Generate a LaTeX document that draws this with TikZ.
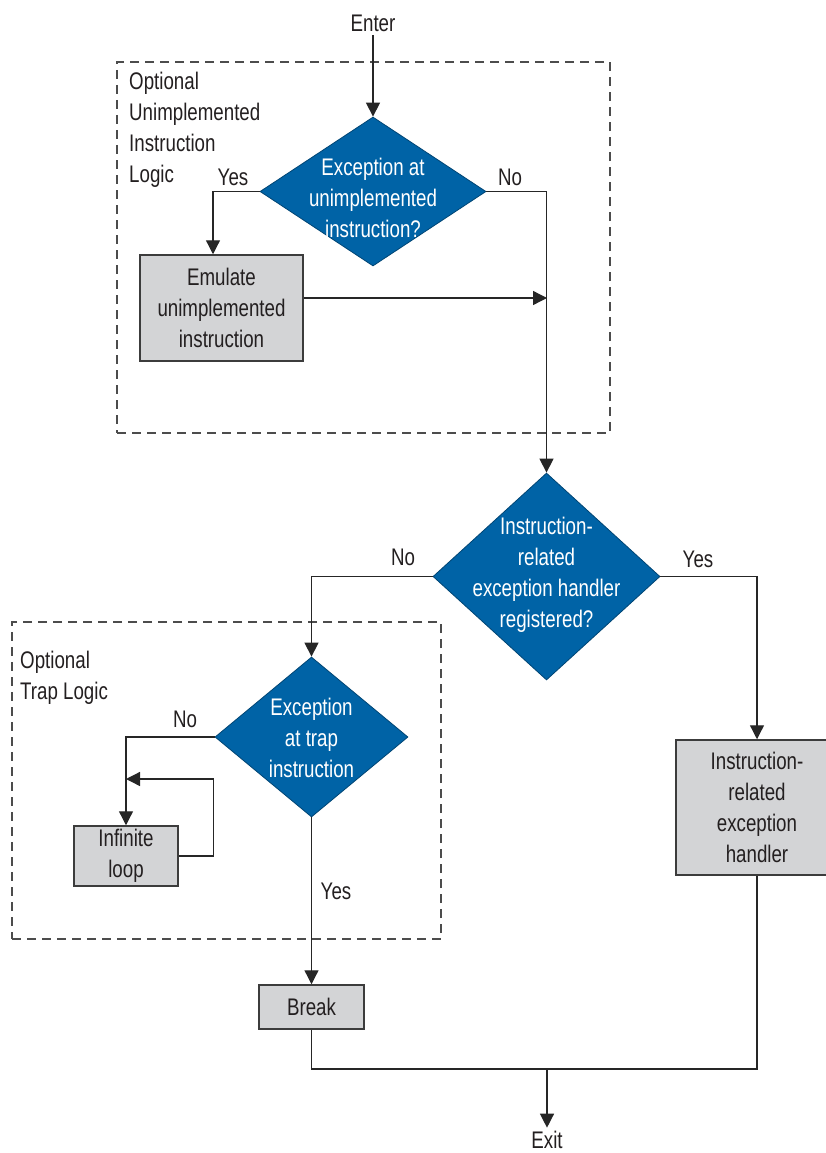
\documentclass[tikz,border=0pt]{standalone}
\usepackage{fontspec}
\setmainfont{Liberation Sans}[FakeStretch=0.78]
\usetikzlibrary{shapes.geometric,arrows.meta}
\definecolor{dblue}{HTML}{0063A6}
\definecolor{bfill}{HTML}{D3D4D6}
\definecolor{bline}{HTML}{3C3C3C}
\definecolor{txt}{HTML}{231F20}
\begin{document}
\begin{tikzpicture}[x=1pt,y=-1pt,
 every node/.style={font=\fontsize{24}{31}\selectfont, text=txt},
 dia/.style={diamond, fill=dblue, draw=dblue!70!black, line width=0.8pt, inner sep=0pt},
 dtext/.style={text=white, align=center, inner sep=0pt},
 procbox/.style={draw=bline, fill=bfill, line width=1.5pt, align=center, inner sep=0pt},
 conn/.style={line width=1.3pt, draw=black!85},
 arr/.style={conn, -{Triangle[length=14pt,width=14pt]}},
 region/.style={draw=black!70, line width=1.2pt, dash pattern=on 9pt off 6pt, inner sep=0pt},
 lbl/.style={inner sep=0pt},
 regtext/.style={align=left, inner sep=0pt}]
\useasboundingbox (0,0) rectangle (826,1153);

% optional regions
\node[region, minimum width=493pt, minimum height=371pt] (reg1) at (363.5,247.5) {};
\node[region, minimum width=429pt, minimum height=317pt] (reg2) at (226.5,780.5) {};
\node[regtext, anchor=west] (reg1t) at (129,130) {Optional\\Unimplemented\\Instruction\\Logic};
\node[regtext, anchor=west] (reg2t) at (20,678) {Optional\\Trap Logic};

% decisions
\node[dia, minimum width=226pt, minimum height=149pt] (d1) at (373,191.5) {};
\node[dtext] (d1t) at (373,198) {Exception at\\unimplemented\\instruction?};
\node[dia, minimum width=227pt, minimum height=207pt] (d2) at (546.5,576.5) {};
\node[dtext] (d2t) at (546.5,575) {Instruction-\\related\\exception handler\\registered?};
\node[dia, minimum width=193pt, minimum height=160pt] (d3) at (311.5,737) {};
\node[dtext] (d3t) at (311.5,738) {Exception\\at trap\\instruction};

% processes
\node[procbox, minimum width=163pt, minimum height=106pt] (emu) at (221.5,308) {Emulate\\unimplemented\\instruction};
\node[procbox, minimum width=162pt, minimum height=135pt] (hnd) at (757,807.5) {Instruction-\\related\\exception\\handler};
\node[procbox, minimum width=104pt, minimum height=60pt] (inf) at (126,856) {Infinite\\loop};
\node[procbox, minimum width=105pt, minimum height=44pt] (brk) at (311.5,1007) {Break};

% terminals
\node (enter) at (373,23) {Enter};
\node (exit) at (547,1140) {Exit};

% labels
\node[lbl] (y1) at (233,177) {Yes};
\node[lbl] (n1) at (510,177) {No};
\node[lbl] (n2) at (403,557) {No};
\node[lbl] (y2) at (698,559) {Yes};
\node[lbl] (n3) at (185,719) {No};
\node[lbl] (y3) at (336,891) {Yes};

\coordinate (j1) at (547,298);
\coordinate (lp) at (126,779);
\coordinate (jx) at (547,1069);

% connectors
\draw[arr] (enter) -- (d1.north);
\draw[arr] (d1.west) -| ([xshift=-8.5pt]emu.north);
\draw[arr] (emu.east |- j1) -- (j1);
\draw[arr] (d1.east) -| (d2.north);
\draw[arr] (d2.west) -| (d3.north);
\draw[arr] (d2.east) -| (hnd.north);
\draw[arr] (d3.west) -| (inf.north);
\draw[arr] (inf.east) -- ++(35,0) |- (lp);
\draw[arr] (d3.south) -- (brk.north);
\draw[conn] (brk.south) |- (jx) -| (hnd.south);
\draw[arr] (jx) -- (exit);
\end{tikzpicture}
\end{document}
